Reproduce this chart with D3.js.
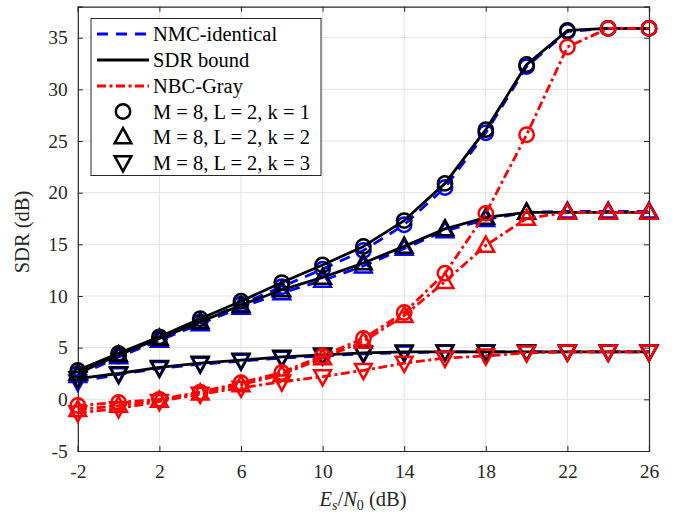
<!DOCTYPE html>
<html><head><meta charset="utf-8">
<script src="https://cdn.jsdelivr.net/npm/d3@7"></script>
<style>body{margin:0;background:#fff}svg{display:block}
svg text, svg tspan{font-family:'Liberation Serif','Times New Roman',Times,serif !important}</style>
</head><body><svg id="c" width="675" height="520"></svg>
<script>
const snr = [-2,0,2,4,6,8,10,12,14,16,18,20,22,24,26];
const xTicks = [-2,2,6,10,14,18,22,26];
const yTicks = [-5,0,5,10,15,20,25,30,35];
// NMC-identical (blue dashed)
const nmcK1 = [2.5,4.2,5.8,7.5,9.2,10.9,12.6,14.4,16.9,20.5,25.8,32.2,35.6,35.9,35.9];
const nmcK2 = [2.3,4.1,5.7,7.3,8.9,10.3,11.5,12.9,14.6,16.3,17.4,18.1,18.2,18.2,18.2];
const nmcK3 = [1.7,2.4,3.0,3.4,3.7,4.0,4.2,4.4,4.5,4.6,4.6,4.6,4.6,4.6,4.6];
// SDR bound (black solid)
const sdrK1 = [2.8,4.45,6.05,7.8,9.5,11.3,13.0,14.8,17.3,20.9,26.1,32.4,35.7,35.9,35.9];
const sdrK2 = [2.5,4.3,5.9,7.5,9.1,10.6,11.8,13.2,14.8,16.5,17.6,18.1,18.1,18.1,18.1];
const sdrK3 = [2.0,2.5,3.1,3.5,3.8,4.1,4.3,4.5,4.6,4.6,4.6,4.6,4.6,4.6,4.6];
// NBC-Gray (red dash-dot)
const nbcK1 = [-0.6,-0.3,0.0,0.7,1.6,2.6,4.2,5.9,8.4,12.2,18.0,25.6,34.1,35.9,35.9];
const nbcK2 = [-1.0,-0.6,-0.1,0.6,1.4,2.4,4.0,5.6,8.1,11.4,14.9,17.5,18.1,18.1,18.1];
const nbcK3 = [-1.3,-0.9,-0.2,0.5,1.1,1.7,2.2,2.8,3.5,4.0,4.2,4.5,4.6,4.6,4.6];
const lineNames = ["NMC-identical","SDR bound","NBC-Gray"];
const markerNames = ["M = 8, L = 2, k = 1","M = 8, L = 2, k = 2","M = 8, L = 2, k = 3"];

const FONT = "'Liberation Serif', 'Times New Roman', Times, serif";
const svg = d3.select("#c").attr("font-family",FONT);
const x = d3.scaleLinear().domain([-2,26]).range([77.8,649]);
const y = d3.scaleLinear().domain([-5,38]).range([451,6.7]);
const axCol = "#262626";

// grid
const g = svg.append("g");
g.selectAll(".vg").data(xTicks.slice(1,-1)).join("line")
  .attr("x1",d=>x(d)).attr("x2",d=>x(d)).attr("y1",y(-5)).attr("y2",y(38))
  .attr("stroke","#e3e3e3").attr("stroke-width",1);
g.selectAll(".hg").data(yTicks.slice(1)).join("line")
  .attr("y1",d=>y(d)).attr("y2",d=>y(d)).attr("x1",x(-2)).attr("x2",x(26))
  .attr("stroke","#e3e3e3").attr("stroke-width",1);

// axes
const tl = 5;
const xa = svg.append("g").attr("transform",`translate(0,${y(-5)})`)
  .call(d3.axisBottom(x).tickValues(xTicks).tickSize(-tl).tickPadding(13).tickFormat(d=>d));
const xt = svg.append("g").attr("transform",`translate(0,${y(38)})`)
  .call(d3.axisTop(x).tickValues(xTicks).tickSize(-tl).tickFormat(""));
const ya = svg.append("g").attr("transform",`translate(${x(-2)},0)`)
  .call(d3.axisLeft(y).tickValues(yTicks).tickSize(-tl).tickPadding(10).tickFormat(d=>d));
const yr = svg.append("g").attr("transform",`translate(${x(26)},0)`)
  .call(d3.axisRight(y).tickValues(yTicks).tickSize(-tl).tickFormat(""));
[xa,xt,ya,yr].forEach(a=>{
  a.attr("font-family",FONT).attr("font-size",19.5);
  a.select(".domain").attr("stroke",axCol).attr("stroke-width",1.2);
  a.selectAll(".tick line").attr("stroke",axCol).attr("stroke-width",1);
  a.selectAll("text").attr("fill",axCol);
});

function markerPath(type){
  const s = 8.8;
  if(type===1) return `M0,${-s} L${s*0.95},${s*0.72} L${-s*0.95},${s*0.72}Z`;
  return `M0,${s} L${s*0.95},${-s*0.72} L${-s*0.95},${-s*0.72}Z`;
}
function drawMarker(sel, type, cx, cy, color){
  if(type===0){
    sel.append("circle").attr("cx",cx).attr("cy",cy).attr("r",7.2)
      .attr("fill","none").attr("stroke",color).attr("stroke-width",2.5);
  } else {
    sel.append("path").attr("d",markerPath(type)).attr("transform",`translate(${cx},${cy})`)
      .attr("fill","none").attr("stroke",color).attr("stroke-width",2.5);
  }
}

const groups = [
  {name:lineNames[0], color:"#0000ff", dash:"11,8", data:[nmcK1,nmcK2,nmcK3]},
  {name:lineNames[1], color:"#000000", dash:null, data:[sdrK1,sdrK2,sdrK3]},
  {name:lineNames[2], color:"#ff0000", dash:"9,3.5,3,3.5", data:[nbcK1,nbcK2,nbcK3]}
];
const plot = svg.append("g");
const line = d3.line().x((d,i)=>x(snr[i])).y(d=>y(d));
groups.forEach(gr=>{
  gr.data.forEach((vals,k)=>{
    const sg = plot.append("g");
    sg.append("path").datum(vals).attr("d",line).attr("fill","none")
      .attr("stroke",gr.color).attr("stroke-width",2.8)
      .attr("stroke-dasharray",gr.dash).attr("stroke-linejoin","round");
    vals.forEach((v,i)=>drawMarker(sg,k,x(snr[i]),y(v),gr.color));
  });
});

// legend
const lg = svg.append("g");
lg.append("rect").attr("x",91).attr("y",18.5).attr("width",230).attr("height",157)
  .attr("fill","#fff").attr("stroke",axCol).attr("stroke-width",1);
const rowY = [34,60,86,111.5,137,162.5];
const LFS = 20.5;
groups.forEach((gr,i)=>{
  lg.append("line").attr("x1",97).attr("x2",149).attr("y1",rowY[i]).attr("y2",rowY[i])
    .attr("stroke",gr.color).attr("stroke-width",2.8).attr("stroke-dasharray",gr.dash);
  lg.append("text").attr("x",153).attr("y",rowY[i]).attr("dy","0.35em")
    .attr("font-size",LFS).attr("fill","#000").text(gr.name);
});
markerNames.forEach((nm,k)=>{
  drawMarker(lg,k,123,rowY[3+k],"#000");
  lg.append("text").attr("x",153).attr("y",rowY[3+k]).attr("dy","0.35em")
    .attr("font-size",LFS).attr("fill","#000").text(nm);
});

// axis labels
const xl = svg.append("text").attr("x",363).attr("y",506).attr("text-anchor","middle")
  .attr("font-size",20.5).attr("fill",axCol);
xl.append("tspan").attr("font-style","italic").text("E");
xl.append("tspan").attr("font-style","italic").attr("font-size",14).attr("dy",4).text("s");
xl.append("tspan").attr("dy",-4).text("/");
xl.append("tspan").attr("font-style","italic").text("N");
xl.append("tspan").attr("font-size",14).attr("dy",4).text("0");
xl.append("tspan").attr("dy",-4).text(" (dB)");
svg.append("text").attr("transform","translate(29,232) rotate(-90)")
  .attr("text-anchor","middle").attr("font-size",20.5).attr("fill",axCol).text("SDR (dB)");
</script></body></html>
